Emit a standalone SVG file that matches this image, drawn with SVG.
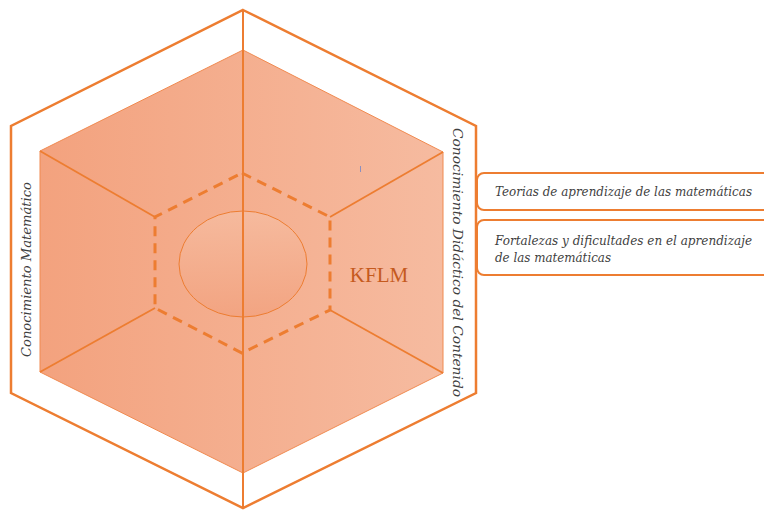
<svg xmlns="http://www.w3.org/2000/svg" width="764" height="510" viewBox="0 0 764 510">
<defs>
<linearGradient id="cube" x1="0" y1="0" x2="1" y2="0">
<stop offset="0" stop-color="#F3A27E"/>
<stop offset="1" stop-color="#F6BBA0"/>
</linearGradient>
<linearGradient id="oval" x1="0" y1="0" x2="0" y2="1">
<stop offset="0" stop-color="#F6BCA0"/>
<stop offset="1" stop-color="#F2A27F"/>
</linearGradient>
<style>
.edge{fill:none;stroke:#ED7D31;stroke-linejoin:miter}
.lbl{font-family:"DejaVu Serif","Liberation Serif",serif;font-style:italic;fill:#3F3F3F}
.box{fill:#FFFFFF;stroke:#ED7D31;stroke-width:2}
</style>
</defs>
<g id="outer-hexagon">
<polygon points="243,10 476,126 476,393 243,508 11,393 11,126" fill="#FFFFFF" class="edge" stroke-width="2.5"/>
</g>
<g id="cube">
<polygon points="243,50 443,152 443,373 243,473 40,372 40,151" fill="url(#cube)" stroke="#F08A50" stroke-width="1"/>
</g>
<g id="connectors">
<line x1="243" y1="10" x2="243" y2="508" class="edge" stroke-width="2"/>
<line x1="40" y1="151" x2="155" y2="217" class="edge" stroke-width="1.8"/>
<line x1="443" y1="152" x2="330" y2="217" class="edge" stroke-width="1.8"/>
<line x1="40" y1="372" x2="155" y2="308" class="edge" stroke-width="1.8"/>
<line x1="443" y1="373" x2="330" y2="310" class="edge" stroke-width="1.8"/>
</g>
<g id="dashed-hexagon">
<polygon points="242,173 330,217 330,310 242,353 155,308 155,217" class="edge" stroke-width="3" stroke-dasharray="10,7"/>
</g>
<g id="core">
<ellipse cx="243" cy="264" rx="64" ry="53" fill="url(#oval)" fill-opacity="0.85" stroke="#ED7D31" stroke-width="1"/>
<line x1="243" y1="211" x2="243" y2="317" class="edge" stroke-width="2"/>
</g>
<g id="kflm">
<text x="379" y="282" text-anchor="middle" font-family="'Liberation Serif',serif" font-size="21" fill="#C55A1E">KFLM</text>
</g>
<line x1="360.5" y1="166" x2="360.5" y2="172" stroke="#8A8FC0" stroke-width="1"/>
<g id="label-left">
<text class="lbl" font-size="13" transform="translate(31,357) rotate(-90)" textLength="175" lengthAdjust="spacingAndGlyphs">Conocimiento Matemático</text>
</g>
<g id="label-right">
<text class="lbl" font-size="13" transform="translate(453,128) rotate(90)" textLength="269" lengthAdjust="spacingAndGlyphs">Conocimiento Didáctico del Contenido</text>
</g>
<g id="box-teorias">
<rect x="477" y="173" width="300" height="37" rx="7" class="box"/>
<text class="lbl" x="495" y="196" font-size="12.5" textLength="257" lengthAdjust="spacingAndGlyphs">Teorias de aprendizaje de las matemáticas</text>
</g>
<g id="box-fortalezas">
<rect x="477" y="220" width="300" height="55" rx="7" class="box"/>
<text class="lbl" x="495" y="245" font-size="12.5" textLength="257" lengthAdjust="spacingAndGlyphs">Fortalezas y dificultades en el aprendizaje</text>
<text class="lbl" x="495" y="262" font-size="12.5" textLength="116" lengthAdjust="spacingAndGlyphs">de las matemáticas</text>
</g>
</svg>
